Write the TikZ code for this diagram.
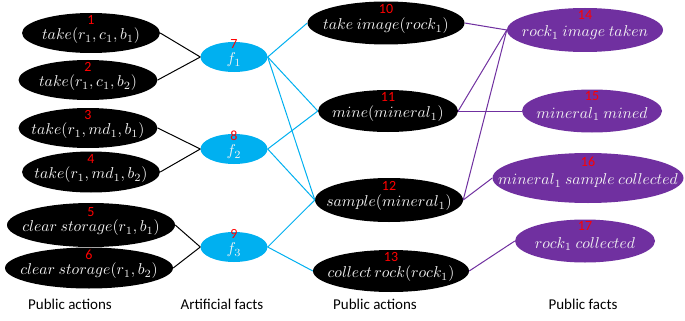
\documentclass[tikz,border=0pt]{standalone}
\usepackage{fontspec}
\setmainfont{Carlito}
\usetikzlibrary{shapes.geometric}
\definecolor{artblue}{RGB}{0,176,240}
\definecolor{factpurple}{RGB}{112,48,160}
\begin{document}
\begin{tikzpicture}[x=1pt,y=-1pt,
  act/.style={ellipse, fill=black, inner sep=0},
  art/.style={ellipse, fill=artblue, inner sep=0},
  fact/.style={ellipse, fill=factpurple, inner sep=0},
  num/.style={text=red, font=\fontsize{14}{14}\selectfont, inner sep=0},
  lbl/.style={text=gray!10, font=\fontsize{10}{12}\selectfont, inner sep=0, scale=1.57},
  caption/.style={font=\fontsize{15}{15}\selectfont, inner sep=0},
  blackline/.style={draw=black, line width=1pt},
  blueline/.style={draw=artblue, line width=1pt},
  purpleline/.style={draw=factpurple, line width=1pt}]
\useasboundingbox[fill=white] (0,0) rectangle (685,321);

% ---- public actions (left column)
\node[act, minimum width=138, minimum height=40] (a1) at (91,33) {};
\node[act, minimum width=139, minimum height=40] (a2) at (88,80) {};
\node[act, minimum width=139, minimum height=40] (a3) at (88,128) {};
\node[act, minimum width=138, minimum height=41] (a4) at (91,172) {};
\node[act, minimum width=168, minimum height=44] (a5) at (91,225) {};
\node[act, minimum width=168, minimum height=41] (a6) at (89,268) {};

% ---- artificial facts
\node[art, minimum width=67, minimum height=30] (f1) at (234,57) {};
\node[art, minimum width=67, minimum height=30] (f2) at (234,149) {};
\node[art, minimum width=67, minimum height=30] (f3) at (234,247) {};

% ---- public actions (right column)
\node[act, minimum width=157, minimum height=43] (b1) at (386,23) {};
\node[act, minimum width=140, minimum height=42] (b2) at (388,111) {};
\node[act, minimum width=148, minimum height=44] (b3) at (389,200) {};
\node[act, minimum width=156, minimum height=42] (b4) at (391,271) {};

% ---- public facts
\node[fact, minimum width=156, minimum height=44] (p1) at (585,30) {};
\node[fact, minimum width=140, minimum height=43] (p2) at (592,111) {};
\node[fact, minimum width=191, minimum height=50] (p3) at (588,178) {};
\node[fact, minimum width=140, minimum height=43] (p4) at (585,241) {};

% ---- numbers
\node[num] (a1n) at ([yshift=13]a1.center) {1};
\node[num] (a2n) at ([yshift=13]a2.center) {2};
\node[num] (a3n) at ([yshift=13]a3.center) {3};
\node[num] (a4n) at ([yshift=13]a4.center) {4};
\node[num] (a5n) at ([yshift=13]a5.center) {5};
\node[num] (a6n) at ([yshift=13]a6.center) {6};
\node[num] (f1n) at ([yshift=13]f1.center) {7};
\node[num] (f2n) at ([yshift=13]f2.center) {8};
\node[num] (f3n) at ([yshift=13]f3.center) {9};
\node[num] (b1n) at ([yshift=14]b1.center) {10};
\node[num] (b2n) at ([yshift=14]b2.center) {11};
\node[num] (b3n) at ([yshift=14]b3.center) {12};
\node[num] (b4n) at ([yshift=14]b4.center) {13};
\node[num] (p1n) at ([yshift=15]p1.center) {14};
\node[num] (p2n) at ([yshift=15]p2.center) {15};
\node[num] (p3n) at ([yshift=16]p3.center) {16};
\node[num] (p4n) at ([yshift=15]p4.center) {17};

% ---- labels
\node[lbl] (a1t) at ([yshift=-3]a1.center) {$take(r_1,c_1,b_1)$};
\node[lbl] (a2t) at ([yshift=-3]a2.center) {$take(r_1,c_1,b_2)$};
\node[lbl] (a3t) at ([yshift=-3]a3.center) {$take(r_1,md_1,b_1)$};
\node[lbl] (a4t) at ([yshift=-3]a4.center) {$take(r_1,md_1,b_2)$};
\node[lbl] (a5t) at ([yshift=-3]a5.center) {$clear\ storage(r_1,b_1)$};
\node[lbl] (a6t) at ([yshift=-3]a6.center) {$clear\ storage(r_1,b_2)$};
\node[lbl] (f1t) at ([yshift=-3]f1.center) {$f_1$};
\node[lbl] (f2t) at ([yshift=-3]f2.center) {$f_2$};
\node[lbl] (f3t) at ([yshift=-3]f3.center) {$f_3$};
\node[lbl] (b1t) at ([yshift=-3]b1.center) {$take\ image(rock_1)$};
\node[lbl] (b2t) at ([yshift=-3]b2.center) {$mine(mineral_1)$};
\node[lbl] (b3t) at ([yshift=-3]b3.center) {$sample(mineral_1)$};
\node[lbl] (b4t) at ([yshift=-3]b4.center) {$collect\,rock(rock_1)$};
\node[lbl] (p1t) at ([yshift=-3]p1.center) {$rock_1\ image\ taken$};
\node[lbl] (p2t) at ([yshift=-3]p2.center) {$mineral_1\ mined$};
\node[lbl] (p3t) at ([yshift=-3]p3.center) {$mineral_1\ sample\ collected$};
\node[lbl] (p4t) at ([yshift=-3]p4.center) {$rock_1\ collected$};

% ---- column captions
\node[caption] (c1) at (70,304) {Public actions};
\node[caption] (c2) at (222,304) {Artificial facts};
\node[caption] (c3) at (375,304) {Public actions};
\node[caption] (c4) at (583,304) {Public facts};

% ---- connectors
\draw[blackline] (a1.east) -- (f1.west);
\draw[blackline] (a2.east) -- (f1.west);
\draw[blackline] (a3.east) -- (f2.west);
\draw[blackline] (a4.east) -- (f2.west);
\draw[blackline] (a5.east) -- (f3.west);
\draw[blackline] (a6.east) -- (f3.west);

\draw[blueline] (f1.east) -- (b1.west);
\draw[blueline] (f1.east) -- (b2.west);
\draw[blueline] (f1.east) -- (b3.west);
\draw[blueline] (f2.east) -- (b2.west);
\draw[blueline] (f2.east) -- (b3.west);
\draw[blueline] (f3.east) -- (b3.west);
\draw[blueline] (f3.east) -- (b4.west);

\draw[purpleline] (b1.east) -- (p1.west);
\draw[purpleline] (b2.east) -- (p1.west);
\draw[purpleline] (b2.east) -- (p2.west);
\draw[purpleline] (b3.east) -- (p1.west);
\draw[purpleline] (b3.east) -- (p3.west);
\draw[purpleline] (b4.east) -- (p4.west);
\end{tikzpicture}
\end{document}
